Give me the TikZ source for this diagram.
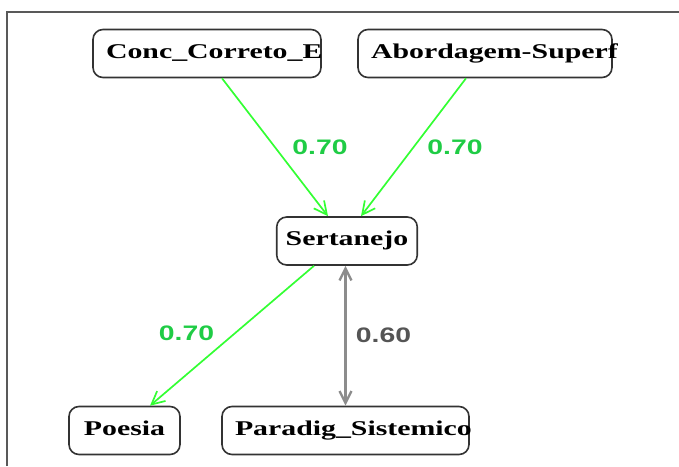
\documentclass[tikz,border=0pt]{standalone}
\usepackage{fontspec}
\usepackage{xcolor}
\usetikzlibrary{arrows.meta,positioning}
\newfontfamily\statefont[FakeStretch=1.42]{Liberation Serif}
\newfontfamily\weightfont[FakeStretch=1.35]{Liberation Sans}
\definecolor{edgegreen}{HTML}{33FF33}
\definecolor{labelgreen}{HTML}{1FCC45}
\definecolor{edgegray}{HTML}{8C8C8C}
\definecolor{labelgray}{HTML}{555555}
\definecolor{framegray}{HTML}{595959}
\newcommand{\leftlabel}[2]{\makebox[#1][l]{#2}}

\begin{document}
\begin{tikzpicture}[
    x=1pt,y=-1pt,
    font=\statefont\bfseries\fontsize{21}{25}\selectfont,
    statebox/.style={draw=black!80,line width=1.6pt,rounded corners=10pt,
      minimum height=48pt,inner xsep=13pt,inner ysep=0pt,
      text height=15pt,text depth=6pt},
    weight/.style={font=\weightfont\bfseries\fontsize{21}{25}\selectfont},
    greenedge/.style={edgegreen,line width=1.7pt,
      -{Straight Barb[length=13pt,width=13pt]}},
    grayedge/.style={edgegray,line width=2.4pt,
      {Straight Barb[length=12pt,width=12pt]}-{Straight Barb[length=12pt,width=12pt]}}
  ]
    \useasboundingbox (0,0) rectangle (679,466);
    % frame
    \draw[framegray,line width=2pt] (7,466) -- (7,12) -- (679,12);
    % states
    \node[statebox] (conc) at (207,53.5) {\leftlabel{202pt}{Conc\_Correto\_E}};
    \node[statebox] (abord) at (485,53.5) {\leftlabel{228pt}{Abordagem-Superf}};
    \node[statebox,inner xsep=9pt,minimum width=140pt] (sert) at (347,241) {Sertanejo};
    \node[statebox,minimum width=111pt] (poesia) at (124.5,430.5) {Poesia};
    \node[statebox] (paradig) at (345.5,430.5) {\leftlabel{221pt}{Paradig\_Sistemico}};
    % influences
    \draw[greenedge] ([xshift=15pt]conc.south) -- ([xshift=-19pt]sert.north);
    \draw[greenedge] ([xshift=-19pt]abord.south) -- ([xshift=14pt]sert.north);
    \draw[greenedge] ([xshift=-33pt]sert.south) -- ([xshift=25.5pt]poesia.north);
    \draw[grayedge] (paradig.north |- sert.south) -- (paradig.north);
    \node[weight,labelgreen] (w1) at (320,147.5) {0.70};
    \node[weight,labelgreen] (w2) at (455,147.5) {0.70};
    \node[weight,labelgreen] (w3) at (186.5,333) {0.70};
    \node[weight,labelgray] (w4) at (383.5,335.5) {0.60};
  \end{tikzpicture}
\end{document}
